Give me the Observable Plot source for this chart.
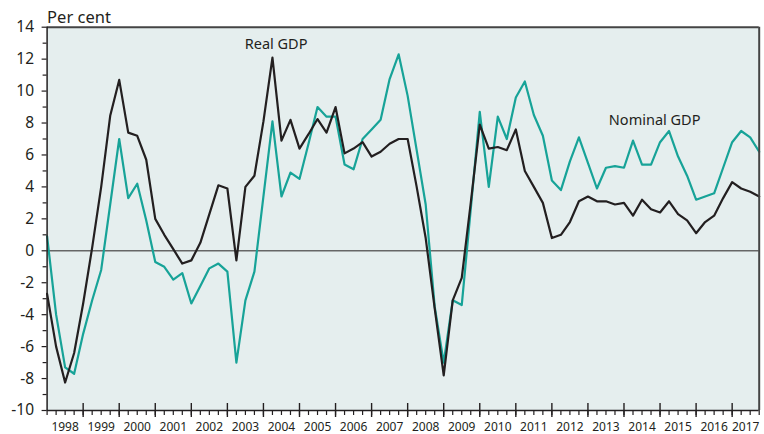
<!DOCTYPE html>
<html>
<head>
<meta charset="utf-8">
<script src="https://cdn.jsdelivr.net/npm/d3@7"></script>
<script src="https://cdn.jsdelivr.net/npm/@observablehq/plot@0.6"></script>
<style>
  html, body { margin: 0; padding: 0; background: #fff; }
  #chart { width: 764px; height: 434px; }
</style>
</head>
<body>
<div id="chart"></div>
<script>
// Quarterly series, 1998Q1 – 2017Q4 (per cent)
const startYear = 1998;
const realGDP = [
  -2.7, -6.0, -8.25, -6.4, -3.3, 0.2, 4.0, 8.45,
  10.7, 7.4, 7.2, 5.7, 2.0, 1.0, 0.1, -0.8,
  -0.6, 0.5, 2.3, 4.1, 3.9, -0.6, 4.0, 4.7,
  8.1, 12.1, 6.9, 8.2, 6.4, 7.3, 8.25, 7.4,
  9.0, 6.1, 6.4, 6.8, 5.9, 6.2, 6.7, 7.0,
  7.0, 4.0, 0.8, -3.6, -7.8, -3.1, -1.7, 3.0,
  7.9, 6.4, 6.5, 6.3, 7.6, 5.0, 4.0, 3.0,
  0.8, 1.0, 1.8, 3.1, 3.4, 3.1, 3.1, 2.9,
  3.0, 2.2, 3.2, 2.6, 2.4, 3.1, 2.3, 1.9,
  1.1, 1.8, 2.2, 3.3, 4.3, 3.9, 3.7, 3.4
];
const nominalGDP = [
  0.9, -4.0, -7.3, -7.7, -5.2, -3.1, -1.2, 2.9,
  7.0, 3.3, 4.2, 1.9, -0.7, -1.0, -1.8, -1.4,
  -3.3, -2.2, -1.1, -0.8, -1.3, -7.0, -3.1, -1.3,
  3.4, 8.1, 3.4, 4.9, 4.5, 6.7, 9.0, 8.4,
  8.4, 5.4, 5.1, 7.0, 7.6, 8.2, 10.75, 12.3,
  9.7, 6.3, 2.9, -3.5, -7.0, -3.1, -3.4, 2.6,
  8.7, 4.0, 8.4, 7.0, 9.6, 10.6, 8.5, 7.2,
  4.4, 3.8, 5.6, 7.1, 5.5, 3.9, 5.2, 5.3,
  5.2, 6.9, 5.4, 5.4, 6.8, 7.5, 5.9, 4.7,
  3.2, 3.4, 3.6, 5.2, 6.8, 7.5, 7.1, 6.2
];
const years = [1998, 1999, 2000, 2001, 2002, 2003, 2004, 2005, 2006, 2007,
               2008, 2009, 2010, 2011, 2012, 2013, 2014, 2015, 2016, 2017];
const yMajorTicks = [-10, -8, -6, -4, -2, 0, 2, 4, 6, 8, 10, 12, 14];
const yMinorTicks = [-9, -7, -5, -3, -1, 1, 3, 5, 7, 9, 11, 13];
const seriesLabels = ["Real GDP", "Nominal GDP"];
const seriesLabelX = [2003.48, 2013.58];
const seriesLabelY = [12.65, 7.89];

// Build tables
const rows = realGDP.map((v, i) => ({t: startYear + i / 4, real: v, nominal: nominalGDP[i]}));
const xEnd = startYear + (realGDP.length - 1) / 4;
const quarterTicks = rows.map(d => d.t);
const yearStarts = years.filter(y => y > startYear);
const yearLabels = years.map(y => ({year: y, pos: (y + Math.min(y + 1, xEnd)) / 2}));
const annotations = seriesLabels.map((s, i) => ({s, x: seriesLabelX[i], y: seriesLabelY[i]}));

const W = 764, H = 434, mL = 46.6, mR = 5.3, mT = 26.7, mB = 24;
const plotH = H - mT - mB;
const ink = "#231f20";

const chart = Plot.plot({
  width: W, height: H,
  marginLeft: mL, marginRight: mR, marginTop: mT, marginBottom: mB,
  x: {domain: [startYear, xEnd], axis: null},
  y: {domain: [-10, 14], axis: null},
  style: {fontFamily: "'Noto Sans', sans-serif", background: "#fff", color: ink, overflow: "visible"},
  marks: [
    Plot.frame({fill: "#e5eeee", stroke: null}),
    Plot.ruleY([0], {stroke: "#666", strokeWidth: 1.5}),
    Plot.line(rows, {x: "t", y: "nominal", stroke: "#17a398", strokeWidth: 2.2}),
    Plot.line(rows, {x: "t", y: "real", stroke: ink, strokeWidth: 2.2}),
    // frame borders
    Plot.ruleY([14], {stroke: "#444", strokeWidth: 2}),
    Plot.ruleX([xEnd], {stroke: "#444", strokeWidth: 2}),
    Plot.ruleX([startYear], {stroke: ink, strokeWidth: 1.5}),
    Plot.ruleY([-10], {stroke: ink, strokeWidth: 1.5}),
    // y axis
    Plot.axisY({ticks: yMajorTicks, tickSize: 5, tickPadding: 8, fontSize: 15.5, stroke: ink, strokeWidth: 1.2, fill: ink,
                tickFormat: d => d < 0 ? "-" + Math.abs(d) : String(d)}),
    Plot.axisY({ticks: yMinorTicks, tickSize: 4, tickFormat: () => "", stroke: ink, strokeWidth: 1.2}),
    // x axis ticks
    Plot.axisX({ticks: quarterTicks, tickSize: 5, tickFormat: () => "", stroke: ink, strokeWidth: 1.2}),
    Plot.axisX({ticks: yearStarts, tickSize: 7, tickFormat: () => "", stroke: ink, strokeWidth: 1.4}),
    Plot.tickX(yearStarts, {x: d => d, stroke: ink, strokeWidth: 1.4, insetTop: plotH - 7}),
    Plot.text(yearLabels, {x: "pos", text: d => String(d.year), frameAnchor: "bottom", lineAnchor: "bottom",
                           dy: 20.5, fontSize: 12, fill: ink}),
    // unit label
    Plot.text(["Per cent"], {frameAnchor: "top-left", textAnchor: "start", lineAnchor: "bottom",
                             dy: -4, dx: 0, fontSize: 16.5, fill: ink}),
    // series annotations
    Plot.text(annotations, {x: "x", y: "y", text: "s", textAnchor: "start", lineAnchor: "bottom",
                            fontSize: 14.5, fill: ink})
  ]
});
document.getElementById("chart").appendChild(chart);
</script>
</body>
</html>
